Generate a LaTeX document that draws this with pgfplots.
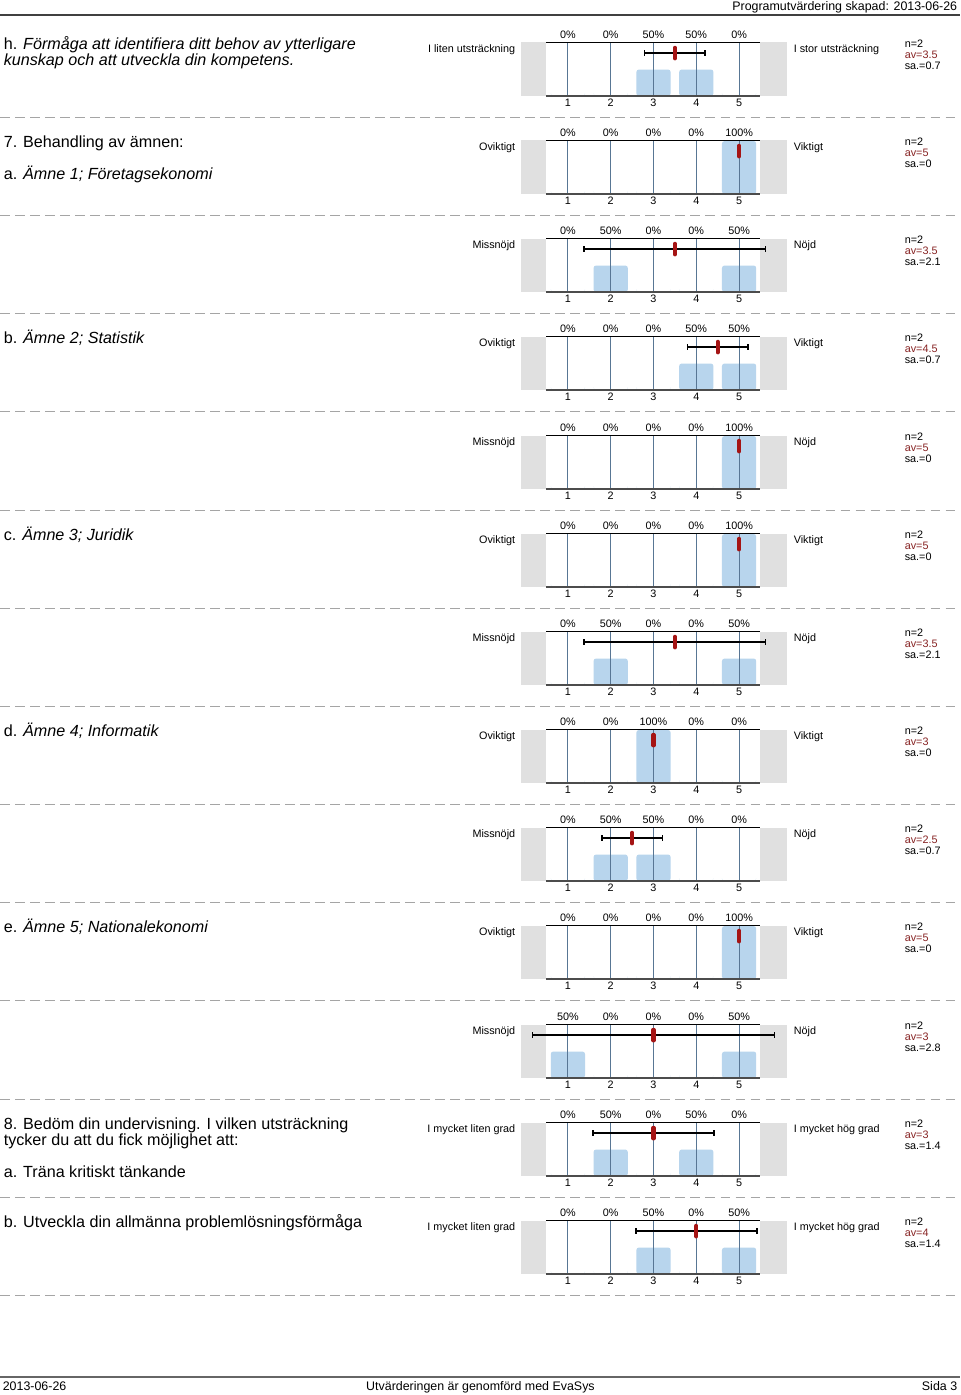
\documentclass[border=0pt]{standalone}
\usepackage{fontspec}
\setmainfont{Liberation Sans}
\usepackage{pgfplots}
\pgfplotsset{compat=1.18}
\definecolor{barblue}{RGB}{184,213,237}
\definecolor{greybox}{RGB}{224,224,224}
\definecolor{gridc}{RGB}{88,118,148}
\definecolor{meanred}{RGB}{165,20,20}
\definecolor{avred}{RGB}{135,35,35}
\definecolor{sepgrey}{RGB}{165,165,165}
\newcommand{\smallf}{\fontsize{6.7}{8}\selectfont}
\newcommand{\bigf}{\fontsize{10}{12}\selectfont}
\newcommand{\hdrf}{\fontsize{7.7}{9}\selectfont}
\pgfplotsset{panel/.style={
  anchor=north west, scale only axis, width=132.68pt, height=33.17pt,
  xmin=0.5, xmax=5.5, ymin=0, ymax=101, clip=false,
  axis line style={draw=none}, xtick={1,2,3,4,5}, ytick=\empty,
  major tick length=0pt,
  /pgf/number format/assume math mode=true,
  xticklabel style={font=\smallf, inner sep=0pt, yshift=-1.9pt},
}}
\tikzset{px/.style={x=0.62pt,y=-0.62pt}}
\def\setp#1,#2,#3,#4,#5\relax{\def\pA{#1}\def\pB{#2}\def\pC{#3}\def\pD{#4}\def\pE{#5}}
% #1 P (y of percent labels, px), #2 left label, #3 right label, #4 percentages,
% #5 mean, #6 sd, #7 av text, #8 sa text
\newcommand{\panel}[8]{%
\setp#4\relax
\pgfmathsetmacro\T{#1+7.5}%
\pgfmathsetmacro\lo{#5-#6}%
\pgfmathsetmacro\hi{#5+#6}%
\begin{axis}[panel, at={({546*0.62pt},{-\T*0.62pt})}]
 \fill[greybox] (axis cs:-0.105,0) rectangle (axis cs:0.5,101);
 \fill[greybox] (axis cs:5.5,0) rectangle (axis cs:6.11,101);
 \addplot[ybar, bar width=0.8, fill=barblue, draw=none, rounded corners=1.6pt]
   coordinates {(1,\pA) (2,\pB) (3,\pC) (4,\pD) (5,\pE)};
 \pgfplotsinvokeforeach{1,...,5}{\draw[gridc, line width=0.6pt] (axis cs:##1,0) -- (axis cs:##1,101);}
 \ifdim #6pt>0pt
 \addplot[black, line width=1pt, mark=none] coordinates {(\lo,81) (\hi,81)};
 \addplot[black, line width=1pt, only marks, mark=|, mark size=1.9pt] coordinates {(\lo,81) (\hi,81)};
 \fi
 \addplot[only marks, mark=|, mark size=3.3pt, mark options={draw=meanred, line width=2.5pt, line cap=round}] coordinates {(#5,81)};
 \draw[black, line width=0.6pt] (axis cs:0.5,101) -- (axis cs:5.5,101);
 \draw[black!70, line width=1.3pt] (axis cs:0.5,0) -- (axis cs:5.5,0);
 \node[font=\smallf, yshift=4.65pt] at (axis cs:1,101) {\pA\%};
 \node[font=\smallf, yshift=4.65pt] at (axis cs:2,101) {\pB\%};
 \node[font=\smallf, yshift=4.65pt] at (axis cs:3,101) {\pC\%};
 \node[font=\smallf, yshift=4.65pt] at (axis cs:4,101) {\pD\%};
 \node[font=\smallf, yshift=4.65pt] at (axis cs:5,101) {\pE\%};
\end{axis}
\begin{scope}[px]
 \node[font=\smallf, anchor=base east, inner sep=0pt] at (515,{#1+17.9}) {#2};
 \node[font=\smallf, anchor=base west, inner sep=0pt] at (793,{#1+17.9}) {#3};
 \node[font=\smallf, anchor=base west, inner sep=0pt] at (904,{#1+12.9}) {n=2};
 \node[font=\smallf, anchor=base west, inner sep=0pt, text=avred] at (904,{#1+23.9}) {av=#7};
 \node[font=\smallf, anchor=base west, inner sep=0pt] at (904,{#1+34.9}) {sa.=#8};
 \draw[sepgrey, line width=0.6pt, dash pattern=on 5.6pt off 3.7pt] (0,{#1+82}) -- (960,{#1+82});
\end{scope}
}
\begin{document}
\begin{tikzpicture}
\begin{scope}[px]
\useasboundingbox (0,0) rectangle (960,1395);
\fill[white] (0,0) rectangle (960,1395);
% header / footer
\node[font=\hdrf, anchor=base east, inner sep=0pt] at (957,10.5) {Programutvärdering skapad: 2013-06-26};
\draw[black!75, line width=0.7pt] (0,15) -- (960,15);
\draw[black!60, line width=1.3pt] (0,1377) -- (960,1377);
\node[font=\hdrf, anchor=base west, inner sep=0pt] at (2,1390) {2013-06-26};
\node[font=\hdrf, anchor=base, inner sep=0pt] at (480,1390) {Utvärderingen är genomförd med EvaSys};
\node[font=\hdrf, anchor=base east, inner sep=0pt] at (957,1390) {Sida 3};
% question texts
\node[font=\bigf, anchor=base west, inner sep=0pt] at (3,49.7) {h. \textit{Förmåga att identifiera ditt behov av ytterligare}};
\node[font=\bigf, anchor=base west, inner sep=0pt] at (3,65.7) {\textit{kunskap och att utveckla din kompetens.}};
\node[font=\bigf, anchor=base west, inner sep=0pt] at (3,147.7) {7. Behandling av ämnen:};
\node[font=\bigf, anchor=base west, inner sep=0pt] at (3,179.7) {a. \textit{Ämne 1; Företagsekonomi}};
\node[font=\bigf, anchor=base west, inner sep=0pt] at (3,343.7) {b. \textit{Ämne 2; Statistik}};
\node[font=\bigf, anchor=base west, inner sep=0pt] at (3,540.7) {c. \textit{Ämne 3; Juridik}};
\node[font=\bigf, anchor=base west, inner sep=0pt] at (3,736.7) {d. \textit{Ämne 4; Informatik}};
\node[font=\bigf, anchor=base west, inner sep=0pt] at (3,932.7) {e. \textit{Ämne 5; Nationalekonomi}};
\node[font=\bigf, anchor=base west, inner sep=0pt] at (3,1129.7) {8. Bedöm din undervisning. I vilken utsträckning};
\node[font=\bigf, anchor=base west, inner sep=0pt] at (3,1145.7) {tycker du att du fick möjlighet att:};
\node[font=\bigf, anchor=base west, inner sep=0pt] at (3,1177.7) {a. Träna kritiskt tänkande};
\node[font=\bigf, anchor=base west, inner sep=0pt] at (3,1227.7) {b. Utveckla din allmänna problemlösningsförmåga};
\end{scope}
\panel{35}{I liten utsträckning}{I stor utsträckning}{0,0,50,50,0}{3.5}{0.707}{3.5}{0.7}
\panel{133}{Oviktigt}{Viktigt}{0,0,0,0,100}{5}{0}{5}{0}
\panel{231}{Missnöjd}{Nöjd}{0,50,0,0,50}{3.5}{2.121}{3.5}{2.1}
\panel{329}{Oviktigt}{Viktigt}{0,0,0,50,50}{4.5}{0.707}{4.5}{0.7}
\panel{428}{Missnöjd}{Nöjd}{0,0,0,0,100}{5}{0}{5}{0}
\panel{526}{Oviktigt}{Viktigt}{0,0,0,0,100}{5}{0}{5}{0}
\panel{624}{Missnöjd}{Nöjd}{0,50,0,0,50}{3.5}{2.121}{3.5}{2.1}
\panel{722}{Oviktigt}{Viktigt}{0,0,100,0,0}{3}{0}{3}{0}
\panel{820}{Missnöjd}{Nöjd}{0,50,50,0,0}{2.5}{0.707}{2.5}{0.7}
\panel{918}{Oviktigt}{Viktigt}{0,0,0,0,100}{5}{0}{5}{0}
\panel{1017}{Missnöjd}{Nöjd}{50,0,0,0,50}{3}{2.828}{3}{2.8}
\panel{1115}{I mycket liten grad}{I mycket hög grad}{0,50,0,50,0}{3}{1.414}{3}{1.4}
\panel{1213}{I mycket liten grad}{I mycket hög grad}{0,0,50,0,50}{4}{1.414}{4}{1.4}
\end{tikzpicture}
\end{document}
